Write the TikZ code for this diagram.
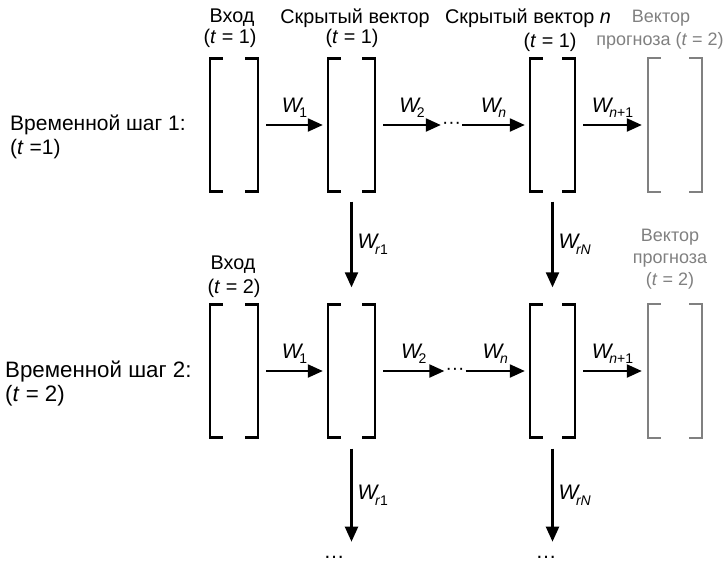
\documentclass[tikz,border=0pt]{standalone}
\usepackage{fontspec}
\setmainfont{Liberation Sans}
\usetikzlibrary{arrows.meta}
\definecolor{predgray}{RGB}{128,128,128}
\newcommand\wlab[1]{\textit{W}\kern-4pt\raisebox{-5.5pt}{\fontsize{14}{14}\selectfont #1}}
\newcommand\brk[2]{%
  \draw[brkline,#2] ([xshift=13pt]#1.north west) -- (#1.north west) -- (#1.south west) -- ([xshift=13pt]#1.south west);
  \draw[brkline,#2] ([xshift=-13pt]#1.north east) -- (#1.north east) -- (#1.south east) -- ([xshift=-13pt]#1.south east);}
\tikzset{
  vec/.style={rectangle, draw=none, minimum width=#1, minimum height=133pt, inner sep=0pt},
  brkline/.style={line width=2.5pt, line cap=butt, line join=miter, black},
  conn/.style={line width=2.2pt, -{Triangle[length=15pt,width=13pt]}},
  toplab/.style={font=\fontsize{19.8}{23}\selectfont, align=center, inner sep=0pt},
  graylab/.style={font=\fontsize{18}{22}\selectfont, align=center, inner sep=0pt, text=predgray},
  sidelab/.style={align=left, inner sep=0pt, anchor=west},
  wl/.style={font=\fontsize{21}{21}\selectfont, inner sep=0pt},
  hdots/.style={font=\fontsize{19}{19}\selectfont, inner sep=0pt, text height=0.64em, text depth=0pt},
  vdots/.style={font=\fontsize{21}{21}\selectfont, inner sep=0pt},
}
\begin{document}
\begin{tikzpicture}[x=1pt,y=-1pt]
\useasboundingbox (0,0) rectangle (727,563);
% row 1
\node[vec=48pt] (in1) at (234,125) {};
\node[vec=47pt] (ha1) at (351.5,125) {};
\node[vec=45pt] (hn1) at (552.5,125) {};
\node[vec=54pt] (pr1) at (675,125) {};
\node[hdots] (d1) at (451.5,125) {···};
% row 2
\node[vec=48pt] (in2) at (234,371) {};
\node[vec=47pt] (ha2) at (351.5,371) {};
\node[vec=45pt] (hn2) at (552.5,371) {};
\node[vec=54pt] (pr2) at (675,371) {};
\node[hdots] (d2) at (455,371) {···};
% bottom dots
\node[vdots] (b1) at (334,557) {…};
\node[vdots] (b2) at (546,557) {…};

\brk{in1}{}
\brk{ha1}{}
\brk{hn1}{}
\brk{pr1}{draw=predgray, line width=2.3pt}
\brk{in2}{}
\brk{ha2}{}
\brk{hn2}{}
\brk{pr2}{draw=predgray, line width=2.3pt}

% labels top
\node[toplab] (lin1) at (232,18) {Вход};
\node[toplab] (lin1t) at (230,38) {(\textit{t} = 1)};
\node[toplab] (lh1) at (355,18) {Скрытый вектор};
\node[toplab] (lh1t) at (352,38) {(\textit{t} = 1)};
\node[toplab] (lhn) at (528,18) {Скрытый вектор \textit{n}};
\node[toplab] (lhnt) at (550,42) {(\textit{t} = 1)};
\node[graylab] (lp1) at (661,18) {Вектор};
\node[graylab] (lp1b) at (660,41) {прогноза (\textit{t} = 2)};
% labels row 2
\node[toplab] (lin2) at (233,265) {Вход};
\node[toplab] (lin2t) at (234,288) {(\textit{t} = 2)};
\node[graylab] (lp2) at (670,259) {Вектор\\прогноза\\(\textit{t} = 2)};
% side labels
\node[sidelab, font=\fontsize{21}{23.5}\selectfont] (s1) at (10,137) {Временной шаг 1:\\(\textit{t} =1)};
\node[sidelab, font=\fontsize{22.3}{24}\selectfont] (s2) at (5,384) {Временной шаг 2:\\(\textit{t} = 2)};

% row 1 connectors
\draw[conn] ([xshift=8pt]in1.east) -- node[wl, above=6pt] {\wlab{1}} ([xshift=-5pt]ha1.west);
\draw[conn] ([xshift=8pt]ha1.east) -- node[wl, above=6pt] {\wlab{2}} ([xshift=-1pt]d1.west);
\draw[conn] ([xshift=1pt]d1.east) -- node[wl, above=6pt] {\wlab{\textit{n}}} ([xshift=-5pt]hn1.west);
\draw[conn] ([xshift=8pt]hn1.east) -- node[wl, above=6pt] {\wlab{\textit{n}+1}} ([xshift=-6pt]pr1.west);
% row 2 connectors
\draw[conn] ([xshift=8pt]in2.east) -- node[wl, above=6pt] {\wlab{1}} ([xshift=-5pt]ha2.west);
\draw[conn] ([xshift=8pt]ha2.east) -- node[wl, above=6pt] {\wlab{2}} ([xshift=-1pt]d2.west);
\draw[conn] ([xshift=1pt]d2.east) -- node[wl, above=6pt] {\wlab{\textit{n}}} ([xshift=-5pt]hn2.west);
\draw[conn] ([xshift=8pt]hn2.east) -- node[wl, above=6pt] {\wlab{\textit{n}+1}} ([xshift=-6pt]pr2.west);
% vertical connectors
\draw[conn] ([yshift=-10pt]ha1.south) -- node[wl, right=5pt] {\wlab{\textit{r}1}} ([yshift=17pt]ha2.north);
\draw[conn] ([yshift=-10pt]hn1.south) -- node[wl, right=5pt] {\wlab{\textit{rN}}} ([yshift=17pt]hn2.north);
\draw[conn] ([yshift=-11pt]ha2.south) -- node[wl, right=5pt] {\wlab{\textit{r}1}} ([yshift=14pt]ha2.south |- b1.north);
\draw[conn] ([yshift=-11pt]hn2.south) -- node[wl, right=5pt] {\wlab{\textit{rN}}} ([yshift=14pt]hn2.south |- b2.north);
\end{tikzpicture}
\end{document}
